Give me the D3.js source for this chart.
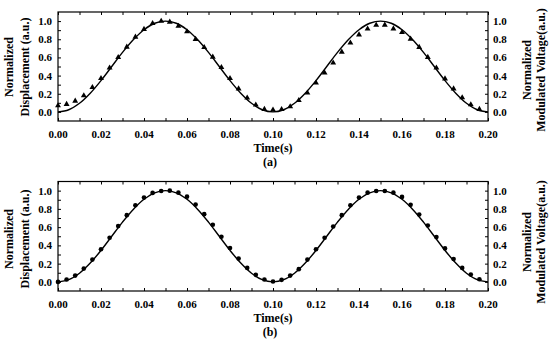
<!DOCTYPE html>
<html>
<head>
<meta charset="utf-8">
<script src="https://cdn.jsdelivr.net/npm/d3@7"></script>
<style>
  body { margin: 0; background: #fff; }
  text { font-family: "Liberation Serif", "Times New Roman", serif; font-weight: bold; fill: #000; }
</style>
</head>
<body>
<div id="chart"></div>
<script>
// time axis (s) of the measured markers
var markerTimes = [0.000, 0.004, 0.008, 0.012, 0.016, 0.020, 0.024, 0.028, 0.032, 0.036,
    0.040, 0.044, 0.048, 0.052, 0.056, 0.060, 0.064, 0.068, 0.072, 0.076,
    0.080, 0.084, 0.088, 0.092, 0.096, 0.100, 0.104, 0.108, 0.112, 0.116,
    0.120, 0.124, 0.128, 0.132, 0.136, 0.140, 0.144, 0.148, 0.152, 0.156,
    0.160, 0.164, 0.168, 0.172, 0.176, 0.180, 0.184, 0.188, 0.192, 0.196];

// (a) modulated voltage, triangles
var voltageA = [0.07, 0.085, 0.12, 0.18, 0.27, 0.37, 0.485, 0.60, 0.715, 0.825,
    0.91, 0.975, 1.0, 0.99, 0.945, 0.885, 0.80, 0.71, 0.605, 0.49,
    0.37, 0.255, 0.155, 0.077, 0.03, 0.022, 0.029, 0.058, 0.128, 0.21,
    0.32, 0.43, 0.54, 0.66, 0.76, 0.85, 0.915, 0.955, 0.957, 0.916,
    0.876, 0.803, 0.712, 0.602, 0.485, 0.365, 0.255, 0.157, 0.08, 0.03];

// (b) modulated voltage, circles
var voltageB = [0.0, 0.026, 0.069, 0.146, 0.244, 0.357, 0.484, 0.611, 0.731, 0.84,
    0.924, 0.975, 0.996, 1.0, 0.978, 0.934, 0.847, 0.742, 0.626, 0.495,
    0.371, 0.255, 0.153, 0.077, 0.026, 0.004, 0.022, 0.069, 0.139, 0.244,
    0.357, 0.484, 0.607, 0.731, 0.84, 0.924, 0.978, 0.996, 0.996, 0.978,
    0.931, 0.844, 0.738, 0.618, 0.491, 0.367, 0.251, 0.153, 0.08, 0.029];

// normalized displacement (solid line), same in both panels
var curveTimes = [0.000, 0.005, 0.010, 0.015, 0.020, 0.025, 0.030, 0.035, 0.040, 0.045,
    0.050, 0.055, 0.060, 0.065, 0.070, 0.075, 0.080, 0.085, 0.090, 0.095,
    0.100, 0.105, 0.110, 0.115, 0.120, 0.125, 0.130, 0.135, 0.140, 0.145,
    0.150, 0.155, 0.160, 0.165, 0.170, 0.175, 0.180, 0.185, 0.190, 0.195, 0.200];
var displacement = [0, 0.024, 0.095, 0.206, 0.345, 0.5, 0.655, 0.794, 0.905, 0.976,
    1.0, 0.976, 0.905, 0.794, 0.655, 0.5, 0.345, 0.206, 0.095, 0.024,
    0, 0.024, 0.095, 0.206, 0.345, 0.5, 0.655, 0.794, 0.905, 0.976,
    1.0, 0.976, 0.905, 0.794, 0.655, 0.5, 0.345, 0.206, 0.095, 0.024, 0];

var xTickLabels = [0.00, 0.02, 0.04, 0.06, 0.08, 0.10, 0.12, 0.14, 0.16, 0.18, 0.20];
var yTickLabels = [0.0, 0.2, 0.4, 0.6, 0.8, 1.0];

var width = 550, height = 344;
var svg = d3.select("#chart").append("svg")
    .attr("width", width)
    .attr("height", height);
svg.append("rect").attr("width", width).attr("height", height).attr("fill", "#fff");

var x = d3.scaleLinear().domain([0, 0.2]).range([58, 488]);

function drawPanel(top, bottom, values, marker, tag, labelY) {
    var y = d3.scaleLinear().domain([-0.1, 1.1]).range([bottom, top]);
    var g = svg.append("g");

    // ticks (inward, all sides)
    var minorX = d3.range(0, 21).map(function (i) { return i / 100; });
    var minorY = d3.range(0, 12).map(function (i) { return -0.1 + i / 10; }).filter(function (v) { return v > -0.09 && v < 1.09; });
    g.append("g").attr("transform", "translate(0," + bottom + ")")
        .call(d3.axisTop(x).tickValues(minorX).tickSize(3).tickFormat(""));
    g.append("g").attr("transform", "translate(0," + top + ")")
        .call(d3.axisBottom(x).tickValues(minorX).tickSize(3).tickFormat(""));
    g.append("g").attr("transform", "translate(58,0)")
        .call(d3.axisRight(y).tickValues(minorY).tickSize(3).tickFormat(""));
    g.append("g").attr("transform", "translate(488,0)")
        .call(d3.axisLeft(y).tickValues(minorY).tickSize(3).tickFormat(""));
    g.selectAll(".domain").remove();
    g.selectAll(".tick line").attr("stroke", "#000").attr("stroke-width", 1);

    // frame
    g.append("rect")
        .attr("x", 58).attr("y", top)
        .attr("width", 430).attr("height", bottom - top)
        .attr("fill", "none").attr("stroke", "#000").attr("stroke-width", 1.2);

    // tick labels
    g.selectAll(".xl").data(xTickLabels).enter().append("text")
        .attr("x", function (d) { return x(d); })
        .attr("y", bottom + 17)
        .attr("text-anchor", "middle")
        .style("font-size", "11px")
        .text(function (d) { return d.toFixed(2); });
    g.selectAll(".yl").data(yTickLabels).enter().append("text")
        .attr("x", 52)
        .attr("y", function (d) { return y(d) + 4; })
        .attr("text-anchor", "end")
        .style("font-size", "11px")
        .text(function (d) { return d.toFixed(1); });
    g.selectAll(".yr").data(yTickLabels).enter().append("text")
        .attr("x", 493)
        .attr("y", function (d) { return y(d) + 4; })
        .attr("text-anchor", "start")
        .style("font-size", "11px")
        .text(function (d) { return d.toFixed(1); });

    // axis titles
    g.append("text").attr("x", 273).attr("y", bottom + 31)
        .attr("text-anchor", "middle").style("font-size", "12px").text("Time(s)");
    g.append("text").attr("x", 270).attr("y", bottom + 45)
        .attr("text-anchor", "middle").style("font-size", "12px").text(tag);

    var leftTitles = [["Normalized", 13], ["Displacement (a.u.)", 29]];
    leftTitles.forEach(function (t) {
        g.append("text")
            .attr("transform", "translate(" + t[1] + "," + labelY + ") rotate(-90)")
            .attr("text-anchor", "middle").style("font-size", "12px").text(t[0]);
    });
    var rightTitles = [["Normalized", 531], ["Modulated Voltage(a.u.)", 545]];
    rightTitles.forEach(function (t) {
        g.append("text")
            .attr("transform", "translate(" + t[1] + "," + (labelY + 3) + ") rotate(-90)")
            .attr("text-anchor", "middle").style("font-size", "12px").text(t[0]);
    });

    // displacement curve
    var line = d3.line()
        .x(function (d, i) { return x(curveTimes[i]); })
        .y(function (d) { return y(d); })
        .curve(d3.curveCatmullRom);
    g.append("path")
        .datum(displacement)
        .attr("d", line)
        .attr("fill", "none")
        .attr("stroke", "#000")
        .attr("stroke-width", 1.4);

    // markers
    var sym = d3.symbol().type(marker).size(marker === d3.symbolTriangle ? 15 : 17);
    g.selectAll(".m").data(values).enter().append("path")
        .attr("d", sym)
        .attr("transform", function (d, i) { return "translate(" + x(markerTimes[i]) + "," + y(d) + ")"; })
        .attr("fill", "#000");
}

drawPanel(12, 121, voltageA, d3.symbolTriangle, "(a)", 67);
drawPanel(181.5, 291, voltageB, d3.symbolCircle, "(b)", 239);
</script>
</body>
</html>
